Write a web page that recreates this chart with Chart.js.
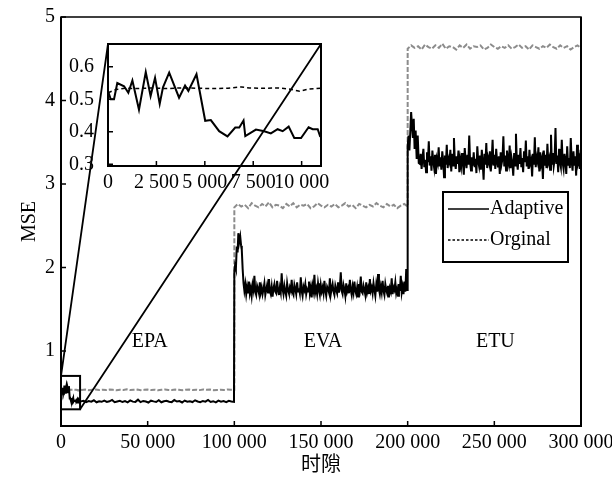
<!DOCTYPE html>
<html>
<head>
<meta charset="utf-8">
<title>MSE</title>
<style>
  body { margin: 0; background: #fff; }
  #wrap { position: relative; width: 612px; height: 478px; }
  #wrap canvas { position: absolute; left: 0; top: 0; }
</style>
</head>
<body>
<div id="wrap">
  <canvas id="mainChart" width="612" height="478"></canvas>
  <canvas id="zoomChart" width="612" height="478"></canvas>
</div>
<script src="https://cdn.jsdelivr.net/npm/chart.js@4.4.0/dist/chart.umd.min.js"></script>
<script>
// ---- data ----
var seriesNames = ['Adaptive', 'Orginal'];
var regionNames = ['EPA', 'EVA', 'ETU'];
var regionSlots = [51150, 151150, 250600];
var regionLevel = 1.11;

var xTicks = [0, 50000, 100000, 150000, 200000, 250000, 300000];
var yTicks = [1, 2, 3, 4, 5];
var zoomXTicks = [0, 2500, 5000, 7500, 10000];
var zoomYTicks = [0.3, 0.4, 0.5, 0.6];

// adaptive, first 11 000 slots (as in the zoom)
var adaptHeadSlots = [0,140,310,480,830,1050,1260,1600,1950,2200,2430,2670,2840,3160,3670,3980,4150,4570,5020,5310,5740,6170,6570,6780,7000,7090,7640,8070,8410,8760,9020,9330,9620,9970,10360,10570,10830,10950];
var adaptHeadVals = [0.526,0.50,0.50,0.55,0.54,0.52,0.558,0.468,0.584,0.51,0.566,0.486,0.537,0.582,0.505,0.542,0.526,0.577,0.434,0.436,0.402,0.386,0.413,0.413,0.435,0.387,0.407,0.402,0.395,0.408,0.402,0.416,0.381,0.381,0.414,0.408,0.408,0.387];
// adaptive EPA, 11 500 .. 99 800
var adaptEPA = [0.395,0.402,0.386,0.399,0.391,0.408,0.384,0.397,0.390,0.404,0.388,0.396,0.412,0.385,0.394,0.401,0.387,0.398,0.383,0.406,0.392,0.389,0.415,0.386,0.400,0.393,0.381,0.403,0.395,0.388,0.409,0.384,0.397,0.402,0.390,0.386,0.411,0.393,0.399,0.382,0.405,0.391,0.396,0.387,0.408,0.394,0.385,0.400,0.392,0.413,0.388,0.397,0.383,0.404,0.391,0.398,0.386,0.402,0.394,0.389];
// adaptive EVA start peak
var adaptEVAHeadSlots = [100000,100400,100900,101400,101900,102300,102800,103400,103900,104300,104800,105300];
var adaptEVAHeadVals = [1.95,2.02,1.98,2.25,2.18,2.41,2.30,2.37,2.26,2.21,1.98,1.81];
// adaptive EVA, 105 800 .. 199 700
var adaptEVA = [
  1.72,1.80,1.68,1.77,1.70,1.83,1.69,1.75,1.66,1.79,1.73,1.90,1.71,1.67,1.78,1.74,1.69,1.82,1.70,1.76,
  1.68,1.74,1.81,1.67,1.73,1.79,1.70,1.86,1.72,1.68,1.77,1.65,1.75,1.80,1.71,1.69,1.84,1.73,1.67,1.76,
  1.70,1.93,1.74,1.68,1.78,1.71,1.66,1.81,1.73,1.69,1.76,1.72,1.85,1.70,1.67,1.79,1.74,1.68,1.82,1.71,
  1.75,1.69,1.88,1.72,1.66,1.77,1.73,1.80,1.68,1.74,1.71,1.83,1.69,1.76,1.64,1.78,1.72,1.91,1.70,1.75,
  1.68,1.81,1.73,1.67,1.79,1.71,1.76,1.69,1.84,1.72,1.66,1.77,1.74,1.70,1.87,1.68,1.75,1.80,1.71,1.67,
  1.78,1.73,1.69,1.82,1.70,1.76,1.94,1.72,1.68,1.79,1.74,1.66,1.81,1.71,1.75,1.69,1.85,1.73,1.67,1.77,
  1.70,1.83,1.72,1.68,1.76,1.65,1.80,1.74,1.89,1.71,1.69,1.78,1.73,1.67,1.82,1.70,1.75,1.68,1.86,1.72,
  1.76,1.69,1.81,1.73,1.66,1.79,1.71,1.92,1.74,1.68,1.77,1.70,1.84,1.72,1.67,1.80,1.73,1.69,1.78,1.64,
  1.75,1.71,1.87,1.68,1.76,1.73,1.82,1.69,1.74,1.66,1.80,1.72,1.90,1.70,1.77,1.68,1.83,1.71,1.98,1.73];
// adaptive ETU start peak
var adaptETUHeadSlots = [200000,200500,201000,201500,202000,202500,203000,203500,204000,204600,205200,205800,206400];
var adaptETUHeadVals = [3.45,3.58,3.40,3.62,3.86,3.70,3.55,3.78,3.42,3.64,3.30,3.58,3.25];
// adaptive ETU, 207 000 .. 299 800
var adaptETU = [
  3.24,3.36,3.18,3.31,3.42,3.20,3.29,3.14,3.38,3.26,3.51,3.22,3.33,3.16,3.40,3.27,3.19,3.35,3.12,3.30,
  3.25,3.44,3.21,3.32,3.17,3.39,3.28,3.08,3.34,3.23,3.47,3.19,3.30,3.26,3.41,3.15,3.36,3.22,3.55,3.27,
  3.18,3.33,3.24,3.40,3.14,3.29,3.21,3.37,3.25,3.11,3.43,3.28,3.19,3.35,3.23,3.58,3.26,3.16,3.32,3.22,
  3.38,3.20,3.30,3.13,3.45,3.27,3.21,3.34,3.17,3.41,3.25,3.05,3.36,3.23,3.49,3.19,3.31,3.26,3.39,3.15,
  3.29,3.53,3.22,3.35,3.18,3.42,3.27,3.20,3.33,3.12,3.38,3.24,3.30,3.57,3.21,3.34,3.16,3.40,3.28,3.23,
  3.46,3.19,3.32,3.25,3.10,3.37,3.22,3.60,3.27,3.17,3.35,3.24,3.43,3.20,3.31,3.14,3.39,3.26,3.52,3.21,
  3.33,3.18,3.41,3.25,3.29,3.09,3.36,3.23,3.56,3.20,3.32,3.27,3.44,3.15,3.38,3.24,3.30,3.06,3.40,3.22,
  3.35,3.19,3.48,3.26,3.31,3.17,3.59,3.23,3.37,3.21,3.29,3.67,3.24,3.34,3.14,3.42,3.26,3.20,3.53,3.25,
  3.18,3.36,3.28,3.12,3.45,3.23,3.31,3.19,3.55,3.27,3.16,3.39,3.22,3.33,3.10,3.47,3.25,3.30,3.18,3.41];

// original, first 11 000 slots
var origHeadSlots = [0,400,900,1500,2200,3000,3800,4600,5400,6200,6900,7300,8000,8800,9400,9900,10400,11000];
var origHeadVals = [0.520,0.530,0.534,0.533,0.535,0.533,0.535,0.534,0.533,0.534,0.538,0.535,0.534,0.535,0.531,0.525,0.532,0.534];
// original EPA, 12 000 .. 100 000
var origEPA = [0.532,0.536,0.529,0.534,0.538,0.531,0.535,0.530,0.537,0.533,0.528,0.535,0.532,0.539,0.530,0.534,0.536,0.529,0.533,0.537,0.531,0.535,0.528,0.534,0.538,0.532,0.530,0.536,0.533,0.529,0.535,0.537,0.531,0.534,0.530,0.538,0.533,0.536,0.529,0.532,0.535,0.531,0.537,0.533,0.534];
// original EVA, 100 000 .. 200 000
var origEVA = [2.72,2.76,2.73,2.75,2.71,2.77,2.74,2.72,2.76,2.73,2.78,2.72,2.75,2.74,2.71,2.76,2.73,2.77,2.72,2.75,
  2.74,2.76,2.71,2.73,2.77,2.74,2.72,2.75,2.73,2.76,2.72,2.74,2.77,2.73,2.75,2.71,2.76,2.74,2.72,2.75,
  2.73,2.77,2.74,2.72,2.76,2.73,2.75,2.71,2.74,2.76,2.73];
// original ETU, 200 000 .. 300 000
var origETU = [4.62,4.66,4.63,4.65,4.61,4.67,4.64,4.62,4.66,4.63,4.68,4.62,4.65,4.64,4.61,4.66,4.63,4.67,4.62,4.65,
  4.64,4.66,4.61,4.63,4.67,4.64,4.62,4.65,4.63,4.66,4.62,4.64,4.67,4.63,4.65,4.61,4.66,4.64,4.62,4.65,
  4.63,4.67,4.64,4.62,4.66,4.63,4.65,4.61,4.64,4.66,4.63];

// ---- helpers ----
function pairs(slots, vals) {
  return vals.map(function (v, i) { return { x: slots[i], y: v }; });
}
function span(start, end, vals) {
  var step = (end - start) / (vals.length - 1);
  return vals.map(function (v, i) { return { x: start + i * step, y: v }; });
}
function fmt(v) {
  return String(v).replace(/\B(?=(\d{3})+(?!\d))/g, ' ');
}

var adaptive = [].concat(
  pairs(adaptHeadSlots, adaptHeadVals),
  span(11500, 99800, adaptEPA),
  pairs(adaptEVAHeadSlots, adaptEVAHeadVals),
  span(105800, 199700, adaptEVA),
  pairs(adaptETUHeadSlots, adaptETUHeadVals),
  span(207000, 299800, adaptETU)
);
var original = [].concat(
  pairs(origHeadSlots, origHeadVals),
  span(12000, 100000, origEPA),
  span(100000, 200000, origEVA),
  span(200000, 300000, origETU)
);

Chart.defaults.font.family = "'Liberation Serif', 'Noto Sans CJK SC', serif";
Chart.defaults.font.size = 20;
Chart.defaults.color = '#000';

var zoomBox = { x0: 0, x1: 11000, y0: 0.3, y1: 0.7 };

function drawTicksInside(ctx, chart, len) {
  var a = chart.chartArea, sx = chart.scales.x, sy = chart.scales.y;
  ctx.beginPath();
  sy.ticks.forEach(function (t) {
    var py = sy.getPixelForValue(t.value);
    ctx.moveTo(a.left, py); ctx.lineTo(a.left + len, py);
  });
  sx.ticks.forEach(function (t) {
    var px = sx.getPixelForValue(t.value);
    ctx.moveTo(px, a.bottom); ctx.lineTo(px, a.bottom - len);
  });
  ctx.stroke();
}

var mainDecor = {
  id: 'mainDecor',
  afterDraw: function (chart) {
    var ctx = chart.ctx, a = chart.chartArea, sx = chart.scales.x, sy = chart.scales.y;
    ctx.save();
    ctx.strokeStyle = '#000';
    // frame
    ctx.lineWidth = 1.5;
    ctx.strokeRect(a.left, a.top, a.right - a.left, a.bottom - a.top);
    ctx.lineWidth = 2;
    ctx.beginPath();
    ctx.moveTo(a.left, a.top); ctx.lineTo(a.left, a.bottom); ctx.lineTo(a.right, a.bottom); ctx.lineTo(a.right, a.top);
    ctx.stroke();
    ctx.lineWidth = 1.5;
    drawTicksInside(ctx, chart, 5);
    // zoom box
    ctx.lineWidth = 2;
    var bx0 = sx.getPixelForValue(zoomBox.x0), bx1 = sx.getPixelForValue(zoomBox.x1);
    var by0 = sy.getPixelForValue(zoomBox.y1), by1 = sy.getPixelForValue(zoomBox.y0);
    ctx.strokeRect(bx0, by0, bx1 - bx0, by1 - by0);
    // region names
    ctx.fillStyle = '#000';
    ctx.font = "20px 'Liberation Serif'";
    ctx.textAlign = 'center';
    ctx.textBaseline = 'middle';
    regionNames.forEach(function (n, i) {
      ctx.fillText(n, sx.getPixelForValue(regionSlots[i]), sy.getPixelForValue(regionLevel));
    });
    // legend
    ctx.lineWidth = 2;
    ctx.strokeRect(443, 192, 125, 70);
    ctx.textAlign = 'left';
    var rows = [209, 240];
    seriesNames.forEach(function (n, i) {
      ctx.beginPath();
      ctx.lineWidth = 1.5;
      ctx.setLineDash(i === 0 ? [] : [2.5, 2]);
      ctx.moveTo(448, rows[i]); ctx.lineTo(489, rows[i]);
      ctx.stroke();
      ctx.setLineDash([]);
      ctx.fillText(n, 490, rows[i]);
    });
    ctx.restore();
  }
};

var mainChart = new Chart(document.getElementById('mainChart'), {
  type: 'line',
  data: {
    datasets: [{
      label: seriesNames[0],
      data: adaptive,
      borderColor: '#000',
      borderWidth: 2,
      pointRadius: 0,
      tension: 0
    }, {
      label: seriesNames[1],
      data: original,
      borderColor: '#8c8c8c',
      borderWidth: 2,
      borderDash: [5, 2],
      pointRadius: 0,
      tension: 0
    }]
  },
  options: {
    responsive: false,
    animation: false,
    layout: { padding: { left: 0, right: 31, top: 17, bottom: 0 } },
    plugins: { legend: { display: false }, tooltip: { enabled: false } },
    scales: {
      x: {
        type: 'linear', min: 0, max: 300000,
        afterBuildTicks: function (s) { s.ticks = xTicks.map(function (v) { return { value: v }; }); },
        ticks: { callback: function (v) { return fmt(v); }, padding: 5, maxRotation: 0, autoSkip: false },
        grid: { display: false, drawTicks: false },
        border: { display: false },
        title: { display: true, text: '时隙', padding: { top: 0, bottom: 0 } },
        afterFit: function (s) { s.height = 52; s.paddingLeft = 0; s.paddingRight = 0; }
      },
      y: {
        type: 'linear', min: 0.1, max: 5,
        afterBuildTicks: function (s) { s.ticks = yTicks.map(function (v) { return { value: v }; }); },
        ticks: { padding: 6 },
        grid: { display: false, drawTicks: false },
        border: { display: false },
        title: { display: true, text: 'MSE', padding: { top: 18, bottom: 18 } },
        afterFit: function (s) { s.width = 61; s.paddingTop = 0; s.paddingBottom = 0; }
      }
    }
  },
  plugins: [mainDecor]
});

var zoomDecor = {
  id: 'zoomDecor',
  beforeDraw: function (chart) {
    var ctx = chart.ctx, a = chart.chartArea;
    ctx.save();
    ctx.fillStyle = '#fff';
    ctx.fillRect(a.left, a.top, a.right - a.left, a.bottom - a.top);
    ctx.restore();
  },
  afterDraw: function (chart) {
    var ctx = chart.ctx, a = chart.chartArea;
    var mx = mainChart.scales.x, my = mainChart.scales.y;
    ctx.save();
    ctx.strokeStyle = '#000';
    ctx.lineWidth = 2;
    ctx.strokeRect(a.left, a.top, a.right - a.left, a.bottom - a.top);
    ctx.lineWidth = 1.5;
    drawTicksInside(ctx, chart, 5);
    // connectors from the small box to the zoom panel
    ctx.lineWidth = 1.8;
    ctx.beginPath();
    ctx.moveTo(mx.getPixelForValue(zoomBox.x0), my.getPixelForValue(zoomBox.y1));
    ctx.lineTo(a.left, a.top);
    ctx.moveTo(mx.getPixelForValue(zoomBox.x1), my.getPixelForValue(zoomBox.y0));
    ctx.lineTo(a.right, a.top);
    ctx.stroke();
    ctx.restore();
  }
};

var zoomChart = new Chart(document.getElementById('zoomChart'), {
  type: 'line',
  data: {
    datasets: [{
      label: seriesNames[0],
      data: adaptive,
      borderColor: '#000',
      borderWidth: 2,
      pointRadius: 0,
      tension: 0
    }, {
      label: seriesNames[1],
      data: original,
      borderColor: '#000',
      borderWidth: 1.5,
      borderDash: [4, 3],
      pointRadius: 0,
      tension: 0
    }]
  },
  options: {
    responsive: false,
    animation: false,
    layout: { padding: { left: 63, right: 291, top: 44, bottom: 282 } },
    plugins: { legend: { display: false }, tooltip: { enabled: false } },
    scales: {
      x: {
        type: 'linear', min: 0, max: 11000,
        afterBuildTicks: function (s) { s.ticks = zoomXTicks.map(function (v) { return { value: v }; }); },
        ticks: { callback: function (v) { return fmt(v); }, padding: 5, maxRotation: 0, autoSkip: false },
        grid: { display: false, drawTicks: false },
        border: { display: false },
        afterFit: function (s) { s.height = 30; s.paddingLeft = 0; s.paddingRight = 0; }
      },
      y: {
        type: 'linear', min: 0.295, max: 0.67,
        afterBuildTicks: function (s) { s.ticks = zoomYTicks.map(function (v) { return { value: v }; }); },
        ticks: { callback: function (v) { return v.toFixed(1); }, padding: 14 },
        grid: { display: false, drawTicks: false },
        border: { display: false },
        afterFit: function (s) { s.width = 45; s.paddingTop = 0; s.paddingBottom = 0; }
      }
    }
  },
  plugins: [zoomDecor]
});
</script>
</body>
</html>
